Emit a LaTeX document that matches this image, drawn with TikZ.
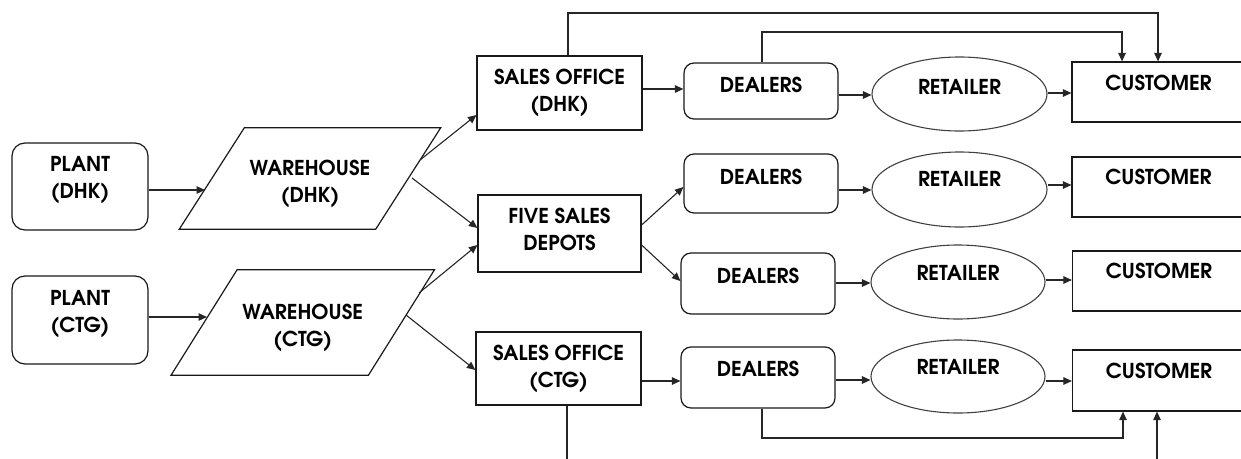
\documentclass[tikz,border=0pt]{standalone}
\usepackage{fontspec}
\setmainfont{texgyreadventor}[Extension=.otf, UprightFont=*-regular, BoldFont=*-bold]
\usetikzlibrary{arrows.meta,shapes.geometric,calc}
\tikzset{
  ln/.style={draw=black!85, line width=1.1pt},
  arr/.style={ln, -{Triangle[length=8.5pt,width=7.5pt]}},
  box/.style={draw=black!90, line width=1.2pt, rectangle, inner sep=0pt},
  rbox/.style={box, rounded corners=10pt},
  ell/.style={draw=black!75, line width=1.1pt, ellipse, inner sep=0pt},
  lab/.style={align=center, inner sep=0pt, text=black},
  plain/.style={inner sep=0pt}
}
\begin{document}
\begin{tikzpicture}[x=1pt,y=-1pt,font=\bfseries\fontsize{20.5}{27}\selectfont]
\useasboundingbox (0,0) rectangle (1241,458);
\clip (0,0) rectangle (1241,458);
% plants
\node[rbox, rounded corners=13pt, minimum width=136pt, minimum height=87pt,
  label={[lab,yshift=6pt]center:PLANT\\(DHK)}] (plantD) at (80,186.5) {};
\node[rbox, rounded corners=13pt, minimum width=136pt, minimum height=88pt,
  label={[lab,yshift=5.5pt]center:PLANT\\(CTG)}] (plantC) at (80,320) {};
% warehouses
\node[plain, minimum width=196pt, minimum height=101pt,
  label={[lab,yshift=-5pt]center:WAREHOUSE\\(DHK)}] (whD) at (310,178.5) {};
\draw[box] ($(whD.north west)+(32.5,0)$) -- ($(whD.north east)+(32.5,0)$)
  -- ($(whD.south east)+(-32.5,0)$) -- ($(whD.south west)+(-32.5,0)$) -- cycle;
\node[plain, minimum width=197pt, minimum height=105pt,
  label={[lab,yshift=-5pt]center:WAREHOUSE\\(CTG)}] (whC) at (302.75,322.5) {};
\draw[box] ($(whC.north west)+(33,0)$) -- ($(whC.north east)+(33,0)$)
  -- ($(whC.south east)+(-33,0)$) -- ($(whC.south west)+(-33,0)$) -- cycle;
% sales offices / depots
\node[box, minimum width=165pt, minimum height=74pt,
  label={[lab]center:SALES OFFICE\\(DHK)}] (sD) at (559.5,93) {};
\node[box, minimum width=163pt, minimum height=77pt,
  label={[lab,yshift=4pt]center:FIVE SALES\\DEPOTS}] (five) at (559.5,233.5) {};
\node[box, minimum width=165pt, minimum height=73pt,
  label={[lab]center:SALES OFFICE\\(CTG)}] (sC) at (558.5,368.5) {};
% dealers
\node[rbox, minimum width=154pt, minimum height=56pt,
  label={[lab,yshift=6pt]center:DEALERS}] (d1) at (761,91) {};
\node[rbox, minimum width=154pt, minimum height=59pt,
  label={[lab,yshift=6.5pt]center:DEALERS}] (d2) at (761,183.5) {};
\node[rbox, minimum width=154pt, minimum height=61pt,
  label={[lab,yshift=7.5pt]center:DEALERS}] (d3) at (758,283.5) {};
\node[rbox, minimum width=154pt, minimum height=61pt,
  label={[lab,yshift=9pt]center:DEALERS}] (d4) at (758,377.5) {};
% retailers
\node[ell, minimum width=175pt, minimum height=74pt,
  label={[lab,yshift=7pt]center:RETAILER}] (r1) at (959.5,94) {};
\node[ell, minimum width=175pt, minimum height=75pt,
  label={[lab,yshift=11pt]center:RETAILER}] (r2) at (959.5,189.5) {};
\node[ell, minimum width=174pt, minimum height=74pt,
  label={[lab,yshift=9pt]center:RETAILER}] (r3) at (958,282) {};
\node[ell, minimum width=174pt, minimum height=73pt,
  label={[lab,yshift=10pt]center:RETAILER}] (r4) at (958,376.5) {};
% customers
\node[box, minimum width=173pt, minimum height=60pt,
  label={[lab,yshift=9pt]center:CUSTOMER}] (c1) at (1158.5,92) {};
\node[box, minimum width=173pt, minimum height=60pt,
  label={[lab,yshift=10pt]center:CUSTOMER}] (c2) at (1158.5,187) {};
\node[box, minimum width=173pt, minimum height=60pt,
  label={[lab,yshift=10pt]center:CUSTOMER}] (c3) at (1159,281) {};
\node[box, minimum width=173pt, minimum height=61pt,
  label={[lab,yshift=9.5pt]center:CUSTOMER}] (c4) at (1159,380.5) {};
% coordinates on warehouse edges
\coordinate (wDin) at (205,190);
\coordinate (wCin) at (207,317);
\coordinate (wDo1) at (420,160);
\coordinate (wDo2) at (412,178);
\coordinate (wCo1) at (419,293);
\coordinate (wCo2) at (406,315);
% connectors
\draw[arr] (plantD.east |- wDin) -- (wDin);
\draw[arr] (plantC.east |- wCin) -- (wCin);
\draw[arr] (wDo1) -- (sD.west |- 0,115);
\draw[arr] (wDo2) -- (five.west |- 0,228);
\draw[arr] (wCo1) -- (five.west |- 0,245);
\draw[arr] (wCo2) -- (sC.west |- 0,370);
\draw[arr] (sD.east |- 0,89) -- (d1.west |- 0,89);
\draw[arr] (five.east |- 0,225) -- (d2.west |- 0,187);
\draw[arr] (five.east |- 0,245) -- (d3.west |- 0,281);
\draw[arr] (sC.east |- 0,381) -- (d4.west |- 0,381);
\draw[arr] (d1.east |- 0,95) -- (r1.west |- 0,95);
\draw[arr] (d2.east |- 0,190) -- (r2.west |- 0,190);
\draw[arr] (d3.east |- 0,283) -- (r3.west |- 0,283);
\draw[arr] (d4.east |- 0,380) -- (r4.west |- 0,380);
\draw[arr] (r1.east |- 0,93) -- (c1.west |- 0,93);
\draw[arr] (r2.east |- 0,185) -- (c2.west |- 0,185);
\draw[arr] (r3.east |- 0,280) -- (c3.west |- 0,280);
\draw[arr] (r4.east |- 0,381) -- (c4.west |- 0,381);
\draw[arr] (sD.north -| 568,0) -- (568,13) -- (1158,13) -- (c1.north -| 1158,0);
\draw[arr] (d1.north -| 762,0) -- (762,32) -- (1122,32) -- (c1.north -| 1122,0);
\draw[arr] (d4.south -| 762,0) -- (762,438) -- (1123,438) -- (c4.south -| 1123,0);
\draw[arr] (sC.south -| 567,0) -- (567,475) -- (1157,475) -- (c4.south -| 1157,0);
\end{tikzpicture}
\end{document}
